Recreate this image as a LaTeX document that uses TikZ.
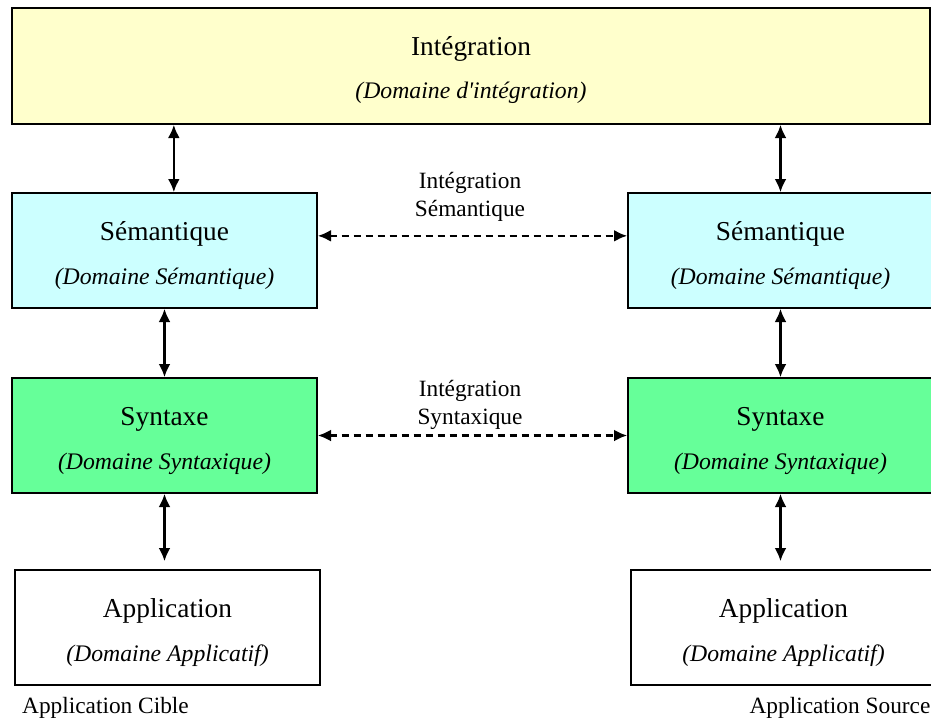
\documentclass[tikz,border=0pt]{standalone}
\usepackage{fontspec}
\setmainfont{Liberation Serif}
\usetikzlibrary{arrows.meta}
\definecolor{integfill}{HTML}{FFFFCC}
\definecolor{semfill}{HTML}{CCFFFF}
\definecolor{synfill}{HTML}{66FF99}
\tikzset{
  dombox/.style={draw, line width=1pt, minimum width=228.75pt, minimum height=86.25pt, inner sep=0pt},
  headtext/.style={anchor=base, inner sep=0pt, font=\fontsize{20.5}{24}\selectfont},
  subtext/.style={anchor=base, inner sep=0pt, font=\fontsize{17.8}{21}\selectfont\itshape},
  caption/.style={align=center, font=\fontsize{17.5}{21}\selectfont},
  biarrow/.style={{Latex[length=10pt,width=9pt]}-{Latex[length=10pt,width=9pt]}, line width=2pt},
  dashbiarrow/.style={biarrow, dash pattern=on 5.5pt off 3.5pt}
}
\begin{document}
\begin{tikzpicture}[x=0.75pt, y=-0.75pt]
  \useasboundingbox (0,0) rectangle (931,717);
  % top layer
  \node[dombox, fill=integfill, minimum width=688.5pt, minimum height=87pt] (integ) at (471,66) {};
  \node[headtext] (integh) at ([yshift=-36pt]integ.north) {Intégration};
  \node[subtext] (integs) at ([yshift=-68.5pt]integ.north) {(Domaine d\textquotesingle intégration)};
  % left column (cible)
  \node[dombox, fill=semfill] (semL) at (164.5,250.5) {};
  \node[dombox, fill=synfill] (synL) at (164.5,435.5) {};
  \node[dombox] (appL) at (167.5,627.5) {};
  % right column (source)
  \node[dombox, fill=semfill] (semR) at (780.5,250.5) {};
  \node[dombox, fill=synfill] (synR) at (780.5,435.5) {};
  \node[dombox] (appR) at (783.5,627.5) {};
  % box texts
  \foreach \b/\head/\sub in {semL/Sémantique/Sémantique, semR/Sémantique/Sémantique,
      synL/Syntaxe/Syntaxique, synR/Syntaxe/Syntaxique,
      appL/Application/Applicatif, appR/Application/Applicatif} {
    \node[headtext] (\b h) at ([yshift=-36pt]\b.north) {\head};
    \node[subtext] (\b s) at ([yshift=-69pt]\b.north) {(Domaine \sub)};
  }
  % captions
  \node[caption] (semlink) at (470,197) {Intégration\\Sémantique};
  \node[caption] (synlink) at (470,405) {Intégration\\Syntaxique};
  \node[caption] (cible) at (105.5,708) {Application Cible};
  \node[caption] (source) at (840,708) {Application Source};
  % vertical links
  \draw[biarrow] ([xshift=7pt]semL.north |- integ.south) -- ([xshift=7pt]semL.north);
  \draw[biarrow] (semR.north |- integ.south) -- (semR.north);
  \draw[biarrow] (semL.south) -- (synL.north);
  \draw[biarrow] (semR.south) -- (synR.north);
  \draw[biarrow, shorten >=6pt] (synL.south) -- (synL.south |- appL.north);
  \draw[biarrow, shorten >=6pt] (synR.south) -- (synR.south |- appR.north);
  % horizontal links
  \draw[dashbiarrow] ([yshift=11pt]semL.east) -- ([yshift=11pt]semR.west);
  \draw[dashbiarrow] (synL.east) -- (synR.west);
\end{tikzpicture}
\end{document}
